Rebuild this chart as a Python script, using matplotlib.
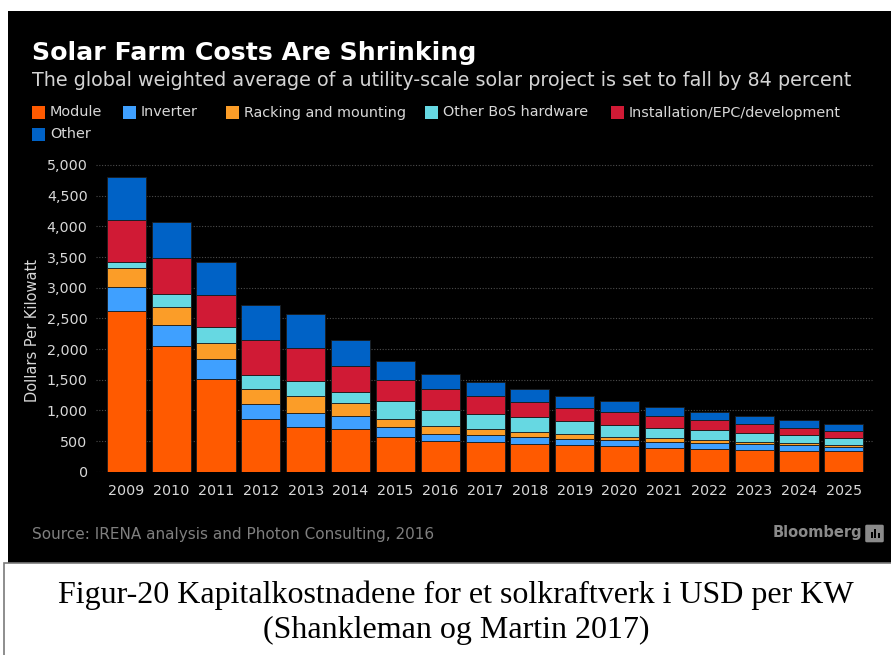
import matplotlib.pyplot as plt
from matplotlib.patches import Rectangle, FancyBboxPatch
import numpy as np

# Данные: стоимость солнечной фермы по компонентам, $/кВт
years = [str(y) for y in range(2009, 2026)]
module = [2620, 2050, 1516, 854, 734, 696, 571, 501, 479, 452, 430, 414, 386, 375, 359, 342, 332]
inverter = [397, 337, 317, 255, 228, 217, 153, 119, 119, 109, 108, 103, 103, 88, 88, 88, 71]
racking = [309, 293, 261, 239, 267, 202, 130, 125, 93, 86, 72, 54, 60, 49, 42, 33, 27]
bos = [93, 212, 265, 234, 245, 185, 299, 261, 255, 240, 217, 195, 164, 163, 142, 130, 124]
install = [685, 592, 522, 560, 548, 428, 347, 337, 283, 244, 217, 207, 190, 163, 152, 124, 115]
other = [696, 582, 538, 571, 544, 424, 300, 255, 234, 217, 195, 175, 157, 135, 120, 121, 114]

series_names = ['Module', 'Inverter', 'Racking and mounting', 'Other BoS hardware',
                'Installation/EPC/development', 'Other']
series = [module, inverter, racking, bos, install, other]
colors = ['#ff5a00', '#3fa0ff', '#fb9d28', '#66d8e2', '#d01a35', '#0062c6']
yticks = [0, 500, 1000, 1500, 2000, 2500, 3000, 3500, 4000, 4500, 5000]

W, H = 891, 655
fig = plt.figure(figsize=(W / 100, H / 100), dpi=100)
fig.patch.set_facecolor('white')


def fx(px):
    return px / W


def fy(py):
    return (H - py) / H


# Чёрная подложка графика
fig.patches.append(Rectangle((fx(8), fy(563)), 1 - fx(8), fy(11) - fy(563),
                             transform=fig.transFigure, facecolor='black',
                             edgecolor='none', zorder=-2))
# Рамка подписи внизу
fig.patches.append(Rectangle((fx(4), -0.01), 1.0, fy(563) + 0.01,
                             transform=fig.transFigure, facecolor='white',
                             edgecolor='#7a7a7a', linewidth=1.2, zorder=-2))

# Оси
y_top = 5050
px_per_unit = (471.7 - 165.0) / 5000
top_px = 471.7 - y_top * px_per_unit
ax = fig.add_axes([fx(96), fy(471.7), fx(873) - fx(96), (471.7 - top_px) / H])
ax.set_facecolor('none')
ax.set_zorder(1)

x = np.arange(len(years))
bottom = np.zeros(len(years))
for name, vals, c in zip(series_names, series, colors):
    ax.bar(x, vals, width=0.87, bottom=bottom, color=c, edgecolor='#1c1c1c',
           linewidth=0.6, zorder=3, label=name)
    bottom += np.array(vals)

ax.set_xlim(-0.676, 16.65)
ax.set_ylim(0, y_top)
ax.set_xticks(x)
ax.set_xticklabels(years)
ax.set_yticks(yticks)
ax.set_yticklabels([f'{v:,}' for v in yticks])
ax.tick_params(axis='both', length=0, colors='#d8d8d8', labelsize=10.3)
ax.tick_params(axis='x', pad=9)
ax.tick_params(axis='y', pad=6)
for s in ax.spines.values():
    s.set_visible(False)
ax.yaxis.grid(True, linestyle=(0, (1, 1.5)), color='#4c4c4c', linewidth=0.8, zorder=0)
ax.set_axisbelow(True)

fig.text(fx(33), fy(330), 'Dollars Per Kilowatt', rotation=90, color='#d8d8d8',
         fontsize=10.5, ha='center', va='center')

# Заголовок и подзаголовок
fig.text(fx(32), fy(60), 'Solar Farm Costs Are Shrinking', color='white',
         fontsize=18.2, fontweight='bold', ha='left', va='baseline')
fig.text(fx(32), fy(86), 'The global weighted average of a utility-scale solar project '
         'is set to fall by 84 percent', color='#d4d4d4', fontsize=13.8,
         ha='left', va='baseline')

# Легенда
leg_pos = [(32, 112.5), (123, 112.5), (226, 112.5), (425, 112.5), (611, 112.5), (32, 134)]
for (px, py), name, c in zip(leg_pos, series_names, colors):
    fig.patches.append(Rectangle((fx(px), fy(py + 6.5)), fx(13), 13 / H,
                                 transform=fig.transFigure, facecolor=c,
                                 edgecolor='none', zorder=2))
    fig.text(fx(px + 18), fy(py), name, color='#d8d8d8', fontsize=10.4,
             ha='left', va='center')

# Источник и логотип
fig.text(fx(32), fy(535), 'Source: IRENA analysis and Photon Consulting, 2016',
         color='#7f7f7f', fontsize=11, ha='left', va='center')
fig.text(fx(862), fy(533), 'Bloomberg', color='#8a8a8a', fontsize=10.5,
         fontweight='bold', ha='right', va='center')
fig.patches.append(FancyBboxPatch((fx(867), fy(541)), fx(15), 15 / H,
                                  boxstyle='round,pad=0.002', transform=fig.transFigure,
                                  facecolor='#8a8a8a', edgecolor='none', zorder=2))
for bx, bh in [(870.5, 6), (874, 9), (877.5, 5)]:
    fig.patches.append(Rectangle((fx(bx), fy(538)), fx(2), bh / H,
                                 transform=fig.transFigure, facecolor='black',
                                 edgecolor='none', zorder=3))

# Подпись рисунка
fig.text(fx(456), fy(603), 'Figur-20 Kapitalkostnadene for et solkraftverk i USD per KW',
         family='Liberation Serif', fontsize=23, color='black', ha='center', va='baseline')
fig.text(fx(456), fy(638), '(Shankleman og Martin 2017)',
         family='Liberation Serif', fontsize=23, color='black', ha='center', va='baseline')

fig.savefig('out.png', dpi=100, facecolor=fig.get_facecolor())
